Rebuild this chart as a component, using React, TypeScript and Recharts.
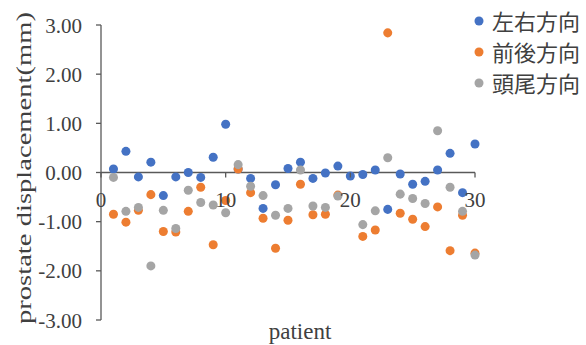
import * as React from 'react'
import {
  ScatterChart,
  Scatter,
  XAxis,
  YAxis,
  ZAxis,
  ReferenceLine,
  Legend,
} from 'recharts'

const patients = [1, 2, 3, 4, 5, 6, 7, 8, 9, 10, 11, 12, 13, 14, 15, 16, 17, 18, 19, 20, 21, 22, 23, 24, 25, 26, 27, 28, 29, 30]

const leftRight = [
  0.07, 0.43, -0.09, 0.21, -0.47, -0.09, 0.0, -0.1, 0.31, 0.98,
  0.07, -0.12, -0.73, -0.25, 0.08, 0.21, -0.12, -0.01, 0.13, -0.07,
  -0.04, 0.05, -0.75, -0.03, -0.24, -0.18, 0.05, 0.39, -0.41, 0.58,
]
const antPost = [
  -0.85, -1.01, -0.77, -0.45, -1.2, -1.21, -0.79, -0.3, -1.47, -0.57,
  0.07, -0.41, -0.93, -1.54, -0.97, -0.24, -0.86, -0.85, -0.46, null,
  -1.3, -1.17, 2.84, -0.83, -0.95, -1.1, -0.7, -1.59, -0.87, -1.64,
]
const headFoot = [
  -0.1, -0.79, -0.71, -1.9, -0.77, -1.14, -0.36, -0.61, -0.66, -0.82,
  0.16, -0.28, -0.47, -0.87, -0.73, 0.05, -0.68, -0.71, -0.48, null,
  -1.06, -0.78, 0.3, -0.44, -0.53, -0.63, 0.85, -0.3, -0.79, -1.68,
]

const seriesNames = ['左右方向', '前後方向', '頭尾方向']
const seriesColors = ['#4472C4', '#ED7D31', '#A5A5A5']
const xTicks = [0, 10, 20, 30]
const yTicks = [-3, -2, -1, 0, 1, 2, 3]

const W = 586
const H = 345
const PLOT_TOP = 25
const PLOT_H = 295
const Y_MIN = -3
const Y_MAX = 3
const ZERO_Y = PLOT_TOP + (PLOT_H * Y_MAX) / (Y_MAX - Y_MIN)

const AXIS = '#595959'
const TEXT = '#404040'
const SERIF = 'Liberation Serif, DejaVu Serif, serif'
const CJK = 'Noto Sans CJK JP, Noto Sans, sans-serif'

const toPoints = (vals: (number | null)[]) =>
  patients
    .map((p, i) => ({ x: p, y: vals[i] }))
    .filter(d => d.y !== null)

const series = [leftRight, antPost, headFoot].map(toPoints)

function XTick({ x, payload }: any) {
  return (
    <g>
      <line x1={x} x2={x} y1={ZERO_Y} y2={ZERO_Y + 5} stroke={AXIS} strokeWidth={1.3} />
      <text
        x={x}
        y={ZERO_Y + 34}
        textAnchor="middle"
        style={{ fontFamily: SERIF, fontSize: 21 }}
        fill={TEXT}
      >
        {payload.value}
      </text>
    </g>
  )
}

function YTick({ x, y, payload }: any) {
  return (
    <text
      x={x}
      y={y}
      dy="0.36em"
      textAnchor="end"
      style={{ fontFamily: SERIF, fontSize: 21 }}
      fill={TEXT}
    >
      {Number(payload.value).toFixed(2)}
    </text>
  )
}

function LegendBox() {
  return (
    <div style={{ fontFamily: CJK, fontSize: 22, color: TEXT }}>
      {seriesNames.map((name, i) => (
        <div key={name} style={{ display: 'flex', alignItems: 'center', height: 31 }}>
          <svg width={14} height={14} style={{ marginRight: 6 }}>
            <circle cx={7} cy={7} r={4.5} fill={seriesColors[i]} />
          </svg>
          <span style={{ lineHeight: '31px' }}>{name}</span>
        </div>
      ))}
    </div>
  )
}

export default function App() {
  return (
    <div style={{ position: 'absolute', top: 0, left: 0, width: W, height: H, background: '#fff' }}>
      <ScatterChart
        width={W}
        height={H}
        margin={{ top: PLOT_TOP, right: 111, bottom: 0, left: 41 }}
      >
        <XAxis
          type="number"
          dataKey="x"
          domain={[0, 30]}
          ticks={xTicks}
          axisLine={false}
          tickLine={false}
          height={25}
          tick={<XTick />}
          label={{
            content: ({ viewBox }: any) => (
              <text
                x={viewBox.x + viewBox.width / 2 + 12}
                y={viewBox.y + 19}
                textAnchor="middle"
                style={{ fontFamily: SERIF, fontSize: 23 }}
                fill={TEXT}
              >
                patient
              </text>
            ),
          }}
        />
        <YAxis
          type="number"
          dataKey="y"
          domain={[Y_MIN, Y_MAX]}
          ticks={yTicks}
          width={60}
          tickSize={5}
          tickMargin={14}
          axisLine={{ stroke: AXIS, strokeWidth: 1.3 }}
          tickLine={{ stroke: AXIS, strokeWidth: 1.3 }}
          tick={<YTick />}
          label={{
            content: () => (
              <text
                x={31}
                y={168}
                transform="rotate(-90, 31, 168)"
                textAnchor="middle"
                style={{ fontFamily: SERIF, fontSize: 20 }}
                textLength={312}
                lengthAdjust="spacingAndGlyphs"
                fill={TEXT}
              >
                prostate displacement(mm)
              </text>
            ),
          }}
        />
        <ZAxis range={[66, 66]} />
        <ReferenceLine y={0} stroke={AXIS} strokeWidth={1.3} />
        {series.map((pts, i) => (
          <Scatter
            key={seriesNames[i]}
            name={seriesNames[i]}
            data={pts}
            fill={seriesColors[i]}
            isAnimationActive={false}
          />
        ))}
        <Legend
          layout="vertical"
          align="center"
          verticalAlign="middle"
          content={<LegendBox />}
          wrapperStyle={{ top: 5, left: 472, width: 114 }}
        />
      </ScatterChart>
    </div>
  )
}
